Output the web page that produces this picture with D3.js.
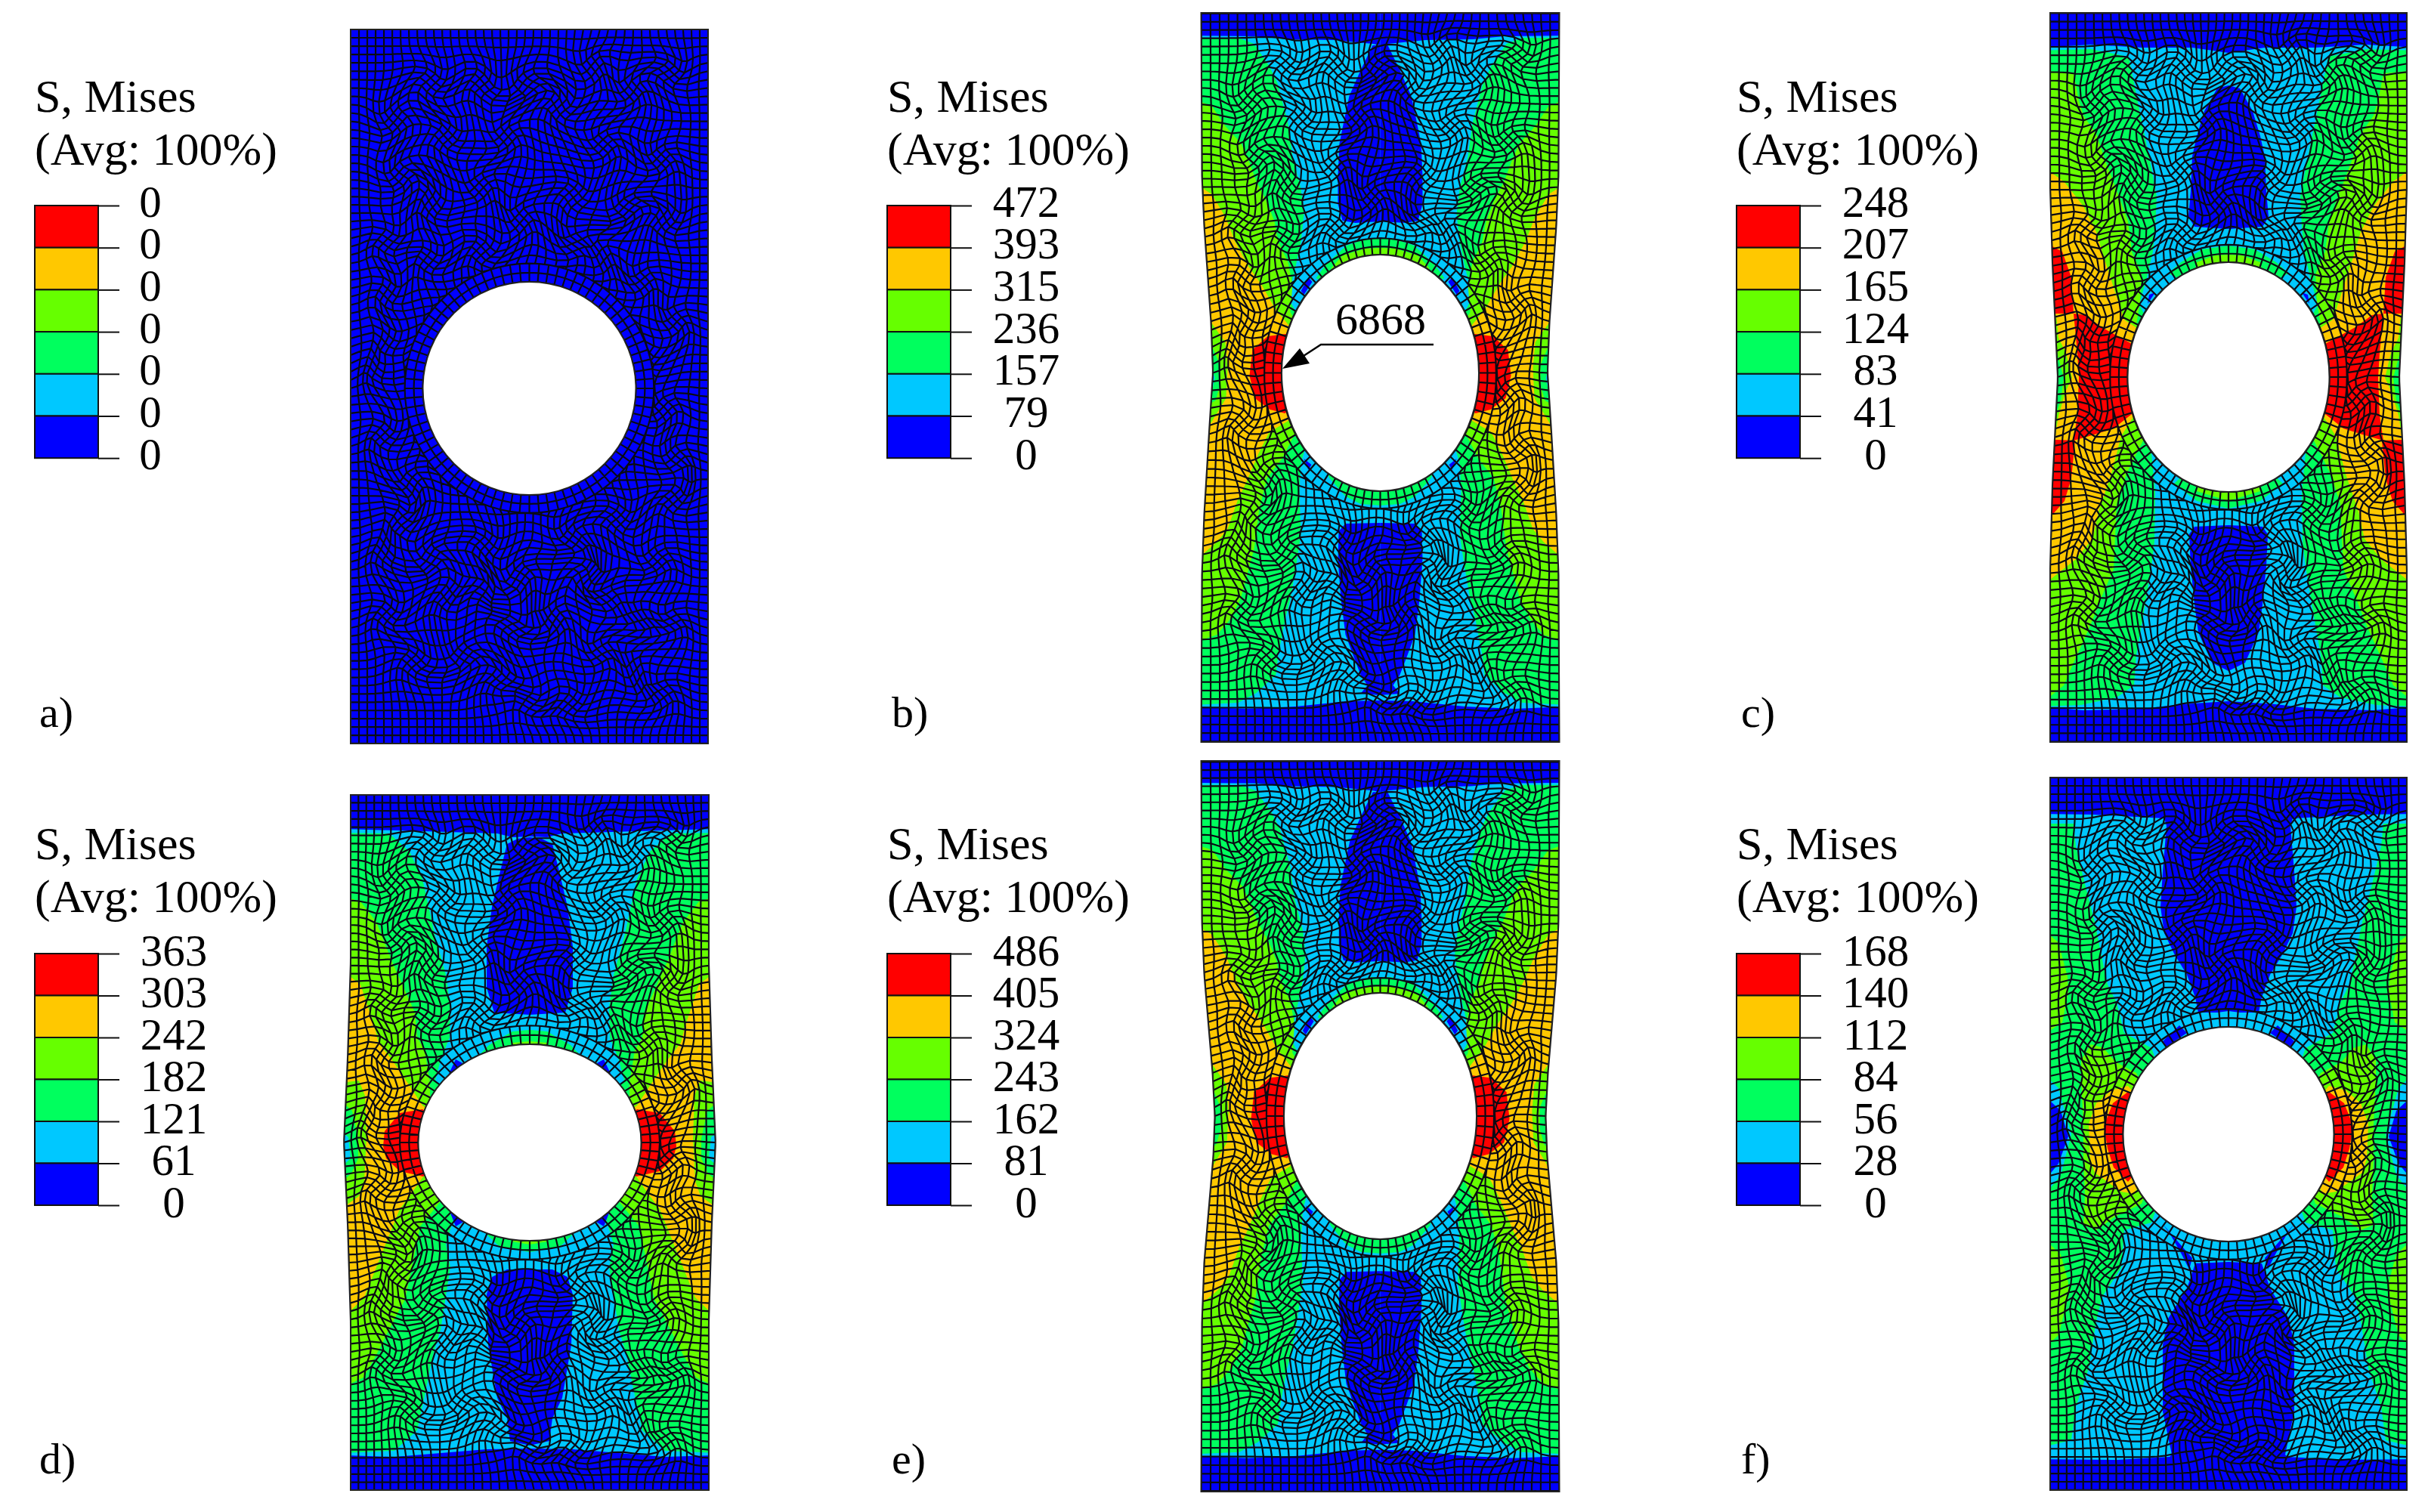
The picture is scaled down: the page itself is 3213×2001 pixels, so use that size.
<!DOCTYPE html>
<html>
<head>
<meta charset="utf-8">
<script src="https://d3js.org/d3.v7.min.js"></script>
<style>
body { margin: 0; background: #fff; }
text { font-family: "Liberation Serif", serif; fill: #000; }
</style>
</head>
<body>
<div id="fig"></div>
<script>
// legend values, top to bottom
const labelsA = ["0", "0", "0", "0", "0", "0", "0"];
const labelsB = ["472", "393", "315", "236", "157", "79", "0"];
const labelsC = ["248", "207", "165", "124", "83", "41", "0"];
const labelsD = ["363", "303", "242", "182", "121", "61", "0"];
const labelsE = ["486", "405", "324", "243", "162", "81", "0"];
const labelsF = ["168", "140", "112", "84", "56", "28", "0"];
const legendLabels = [labelsA, labelsB, labelsC, labelsD, labelsE, labelsF];

const panelNames = ["a)", "b)", "c)", "d)", "e)", "f)"];
const legendColors = ["#ff0000", "#ffc800", "#66ff00", "#00ff5e", "#00c8ff", "#0000ff"];

// contour levels used by the zones below
const BLUE = 5, CYAN = 4, GREEN = 3, LIME = 2, ORANGE = 1, RED = 0;

// plate and hole geometry
const plateCenter = [700.5, 1826.5, 2949, 701, 1826.5, 2949];
const plateTop = [39, 17, 17, 1052, 1007, 1029];
const plateBottom = [984, 982, 982, 1972, 1974, 1972];
const holeCy = [514, 493.5, 499, 1512, 1477, 1501];
const holeRx = [141, 130.5, 133.5, 147.5, 127.5, 139.5];
const holeRy = [141, 156.5, 152, 130, 163, 142];

// half width of the plate at some heights (the sides bow in or out)
const edgeY = [
    [39, 984],
    [17, 233, 300, 427, 493, 563, 680, 760, 982],
    [17, 250, 350, 500, 640, 750, 982],
    [1052, 1273, 1400, 1512, 1620, 1750, 1972],
    [1007, 1220, 1290, 1420, 1477, 1530, 1670, 1750, 1974],
    [1029, 1972]
];
const edgeHalf = [
    [236.5, 236.5],
    [237, 236, 233, 224, 221.5, 226, 233, 236, 237],
    [236, 236, 233, 226, 233, 236, 236],
    [237, 237, 241, 246, 241, 237, 237],
    [237, 236, 233, 222, 219, 221, 233, 236, 237],
    [236, 236]
];

// contour zones: [level, [[distance from centre line, y], ...]], left half, mirrored when drawn.
// painted in order so later ones sit on top.
const zonesB = [
    [GREEN, [[250,50],[188,50],[167,58],[147,87],[136,110],[122,163],[116,207],[105,250],[101,283],[105,320],[112,353],[122,393],[70,493],[105,613],[107,650],[105,707],[112,753],[119,793],[126,820],[135,867],[138,893],[164,917],[188,930],[250,933]]],
    [LIME, [[250,130],[223,140],[205,167],[184,190],[174,213],[164,240],[150,267],[140,293],[135,320],[122,347],[116,377],[119,413],[70,493],[116,580],[130,607],[150,633],[160,673],[167,727],[178,767],[185,793],[199,820],[216,840],[250,852]]],
    [ORANGE, [[250,240],[223,257],[205,287],[192,320],[174,353],[157,377],[140,407],[124,427],[70,493],[122,557],[147,572],[161,600],[178,640],[188,660],[202,700],[216,717],[250,747]]],
    [LIME, [[250,425],[225,425],[205,453],[202,487],[204,527],[226,563],[250,565]]],
    [GREEN, [[250,445],[224,455],[212,483],[212,510],[218,530],[250,548]]],
    [CYAN, [[250,470],[224,483],[219,500],[222,515],[250,525]]],
    [RED, [[125,442],[149,445],[169,463],[173,497],[166,527],[146,542],[126,547],[70,493]]],
    [GREEN, [[0,315],[15,315],[45,325],[72,350],[85,368],[60,380],[0,380]]],
    [LIME, [[0,328],[20,329],[50,338],[65,355],[40,380],[0,380]]],
    [GREEN, [[0,669],[26,667],[46,657],[67,633],[75,615],[40,610],[0,610]]],
    [BLUE, [[0,10],[250,10],[250,47],[164,48],[122,52],[60,53],[10,58],[0,60]]],
    [BLUE, [[10,60],[26,93],[41,127],[48,160],[54,190],[56,233],[56,270],[50,292],[33,295],[0,293],[0,60]]],
    [BLUE, [[0,692],[46,693],[55,703],[56,740],[52,793],[46,840],[36,867],[26,893],[17,907],[26,918],[0,920]]],
    [BLUE, [[0,990],[250,990],[250,935],[178,938],[112,935],[43,928],[0,927]]],
    [BLUE, [[105,385],[95,367],[90,373],[101,390]]],
    [BLUE, [[101,607],[91,615],[95,622]]]
];
const zonesC = [
    [GREEN, [[250,67],[182,65],[132,75],[125,110],[115,160],[105,207],[95,260],[97,300],[100,333],[108,367],[118,403],[70,499],[102,600],[97,650],[98,717],[102,750],[112,810],[122,867],[125,907],[148,923],[195,933],[250,935]]],
    [LIME, [[250,93],[205,97],[198,133],[192,153],[175,177],[163,213],[145,260],[133,293],[128,333],[115,363],[117,400],[122,430],[70,499],[118,593],[135,627],[148,667],[152,753],[168,790],[185,833],[205,877],[218,907],[250,933]]],
    [ORANGE, [[250,218],[218,240],[192,273],[175,307],[165,340],[148,393],[138,423],[123,433],[70,499],[123,547],[142,577],[155,627],[172,677],[180,713],[202,740],[250,778]]],
    [RED, [[250,317],[220,333],[208,367],[205,415],[250,415]]],
    [RED, [[205,415],[190,417],[168,433],[128,455],[60,500],[128,548],[152,567],[177,575],[205,583],[200,550],[198,500],[200,467]]],
    [RED, [[228,582],[203,583],[208,633],[217,663],[232,680],[250,690],[250,582]]],
    [LIME, [[250,415],[228,417],[225,447],[215,467],[207,500],[215,517],[225,550],[230,582],[250,582]]],
    [GREEN, [[250,430],[232,440],[226,470],[218,500],[222,530],[232,560],[250,565]]],
    [CYAN, [[250,470],[232,480],[228,500],[232,520],[250,530]]],
    [GREEN, [[0,325],[35,330],[63,347],[80,362],[40,380],[0,380]]],
    [LIME, [[0,337],[18,338],[42,347],[50,380],[0,380]]],
    [GREEN, [[0,673],[42,663],[72,640],[40,610],[0,610]]],
    [LIME, [[0,663],[42,650],[30,610],[0,610]]],
    [BLUE, [[0,10],[250,10],[250,63],[182,59],[115,63],[48,63],[0,70]]],
    [BLUE, [[0,113],[15,117],[32,147],[42,180],[48,207],[50,253],[53,287],[45,300],[0,303]]],
    [BLUE, [[0,695],[45,697],[52,707],[50,750],[45,800],[40,837],[22,877],[0,888]]],
    [BLUE, [[0,990],[250,990],[250,935],[192,940],[115,938],[62,932],[0,928]]],
    [BLUE, [[107,402],[105,390],[97,387]]]
];
const zonesD = [
    [GREEN, [[250,1102],[186,1103],[159,1127],[142,1163],[125,1240],[111,1290],[105,1333],[106,1373],[118,1403],[125,1430],[70,1512],[111,1647],[105,1677],[118,1760],[128,1793],[139,1847],[149,1893],[179,1920],[250,1923]]],
    [LIME, [[250,1185],[224,1193],[203,1220],[182,1273],[164,1313],[152,1340],[149,1373],[139,1390],[132,1433],[132,1453],[70,1512],[118,1590],[145,1623],[152,1657],[165,1720],[176,1740],[203,1793],[220,1823],[250,1837]]],
    [ORANGE, [[250,1283],[224,1303],[205,1360],[200,1380],[182,1403],[159,1437],[142,1463],[70,1512],[141,1557],[159,1583],[172,1600],[199,1667],[219,1717],[250,1747]]],
    [LIME, [[250,1433],[226,1430],[218,1450],[216,1507],[219,1563],[226,1583],[250,1600]]],
    [GREEN, [[250,1457],[235,1470],[227,1507],[227,1533],[236,1553],[250,1565]]],
    [CYAN, [[250,1497],[240,1505],[237,1533],[250,1545]]],
    [RED, [[142,1468],[172,1473],[192,1497],[194,1517],[190,1533],[172,1550],[141,1557],[80,1512]]],
    [GREEN, [[0,1363],[23,1365],[54,1383],[80,1410],[40,1420],[0,1420]]],
    [LIME, [[0,1378],[23,1380],[30,1410],[0,1410]]],
    [GREEN, [[0,1657],[40,1650],[64,1627],[80,1605],[0,1605]]],
    [LIME, [[0,1647],[23,1643],[30,1620],[0,1620]]],
    [BLUE, [[0,1040],[250,1040],[250,1097],[142,1100],[43,1103],[23,1108],[0,1107]]],
    [BLUE, [[16,1110],[30,1117],[40,1157],[50,1200],[57,1253],[57,1307],[47,1340],[0,1343],[0,1108]]],
    [BLUE, [[0,1680],[30,1680],[50,1690],[57,1713],[55,1780],[43,1850],[30,1877],[26,1907],[0,1913]]],
    [BLUE, [[0,1980],[250,1980],[250,1926],[179,1928],[118,1923],[57,1918],[0,1917]]],
    [BLUE, [[108,1423],[98,1402],[89,1407],[103,1423]]],
    [BLUE, [[106,1603],[88,1617],[98,1623]]]
];
const zonesF = [
    [GREEN, [[250,1090],[205,1090],[202,1120],[190,1170],[177,1220],[167,1270],[160,1303],[148,1327],[138,1367],[102,1387],[60,1500],[102,1618],[138,1628],[142,1678],[167,1716],[175,1748],[185,1811],[202,1862],[208,1906],[250,1916]]],
    [LIME, [[250,1227],[225,1247],[213,1293],[212,1313],[220,1353],[250,1373]]],
    [LIME, [[250,1634],[222,1660],[212,1697],[212,1716],[225,1767],[250,1790]]],
    [LIME, [[195,1403],[182,1382],[165,1387],[150,1405],[122,1420],[80,1500],[115,1593],[150,1610],[175,1628],[192,1621],[190,1583],[192,1533],[192,1487],[195,1430]]],
    [ORANGE, [[133,1437],[155,1443],[175,1460],[185,1487],[183,1533],[177,1552],[142,1577],[125,1580],[80,1500]]],
    [RED, [[133,1445],[153,1460],[165,1490],[160,1520],[152,1545],[133,1564],[80,1500]]],
    [CYAN, [[250,1416],[225,1440],[208,1501],[222,1555],[250,1590]]],
    [BLUE, [[250,1444],[222,1470],[212,1504],[225,1540],[250,1570]]],
    [BLUE, [[0,1020],[250,1020],[250,1077],[180,1078],[85,1083],[82,1093],[87,1153],[90,1200],[85,1235],[72,1262],[55,1290],[44,1320],[40,1340],[15,1340],[0,1338]]],
    [BLUE, [[65,1357],[55,1367],[82,1385],[87,1378]]],
    [BLUE, [[0,1980],[250,1980],[250,1931],[148,1932],[78,1928],[75,1925],[87,1868],[87,1780],[80,1745],[55,1705],[44,1672],[0,1670]]],
    [BLUE, [[87,1620],[48,1665],[52,1680],[62,1660],[78,1632]]]
];
const panelZones = [[], zonesB, zonesC, zonesD, zonesB, zonesF];
const panelBase = [BLUE, CYAN, CYAN, CYAN, CYAN, CYAN];
// which panel's frame the zones were read in (e shares b's pattern)
const zoneFrame = [0, 1, 2, 3, 1, 5];

// schematic mesh: spots where the free mesh whorls, in plate units around the hole centre
const meshKnots = [[-178,-351],[-63,-402],[85,-424],[187,-412],[-5,-396],[59,-253],[-63,-265],[-133,-241],[129,-235],[-191,-192],
    [-12,-222],[-63,-180],[97,-168],[-204,-27],[181,27],[-191,-64],[-159,125],[117,174],[-12,247],[-153,363],
    [-88,357],[53,418],[142,375],[-24,314],[174,405],[-191,216],[33,308],[149,-40],[175,-300],[-110,-330],
    [100,-320],[-110,280],[110,270],[190,150],[-30,-330],[40,-370],[135,-390],[-130,-400],[-170,-280],[180,-220],
    [60,-190],[-135,-170],[150,-140],[-190,-125],[195,-90],[-195,60],[195,90],[-170,175],[55,200],[-60,210],
    [170,230],[-60,270],[-130,225],[75,250],[145,300],[-40,390],[95,350],[-190,300],[190,310],[0,420]];

// callout on panel b
const calloutLabel = "6868";
const calloutLine = [[1897, 456], [1748, 456], [1725, 471]];
const calloutHead = [[1697, 488], [1720, 461], [1733, 481]];

const W = 237, H = 471.5, R = 141, RING = 12, CELLSX = 43, CELLSY = 86;

const svg = d3.select("#fig").append("svg")
    .attr("width", 3213)
    .attr("height", 2001)
    .style("display", "block");

function legendX(i) { return [46, 1174, 2298][i % 3]; }
function legendTop(i) { return i < 3 ? 272 : 1262; }

function drawLegend(i) {
    const x0 = legendX(i), top = legendTop(i), step = i < 3 ? 55.7 : 55.5;
    const g = svg.append("g");
    const y = d3.scaleLinear().domain([0, 6]).range([top, top + 6 * step]);

    g.append("text").attr("x", x0).attr("y", i < 3 ? 148 : 1137).style("font-size", "62px").text("S, Mises");
    g.append("text").attr("x", x0).attr("y", i < 3 ? 218 : 1207).style("font-size", "62px").text("(Avg: 100%)");

    g.selectAll("rect")
        .data(legendColors)
        .enter()
        .append("rect")
        .attr("x", x0)
        .attr("y", (d, k) => y(k))
        .attr("width", 84)
        .attr("height", step)
        .attr("fill", d => d)
        .attr("stroke", "#111")
        .attr("stroke-width", 2);

    const axis = d3.axisRight(y)
        .tickValues(d3.range(7))
        .tickSize(28)
        .tickFormat(k => legendLabels[i][k]);

    const ax = g.append("g")
        .attr("transform", "translate(" + (x0 + 84) + ",0)")
        .call(axis);
    ax.select(".domain").remove();
    ax.selectAll("line").attr("stroke", "#111").attr("stroke-width", 2);
    ax.selectAll("text")
        .attr("x", i == 0 ? 69 : 100)
        .attr("dy", i < 3 ? "14px" : "15px")
        .attr("text-anchor", "middle")
        .style("font-size", "59px")
        .style("font-family", '"Liberation Serif", serif');

    svg.append("text")
        .attr("x", x0 + 6)
        .attr("y", i < 3 ? 962 : 1950)
        .style("font-size", "58px")
        .text(panelNames[i]);
}

function warp(u, v) {
    let fade = Math.min(1, (W - Math.abs(u)) / 36) * Math.min(1, (H - Math.abs(v)) / 36);
    fade = Math.max(0, fade);
    let x = u, y = v;
    meshKnots.forEach((k, n) => {
        const dx = x - k[0], dy = y - k[1];
        // flat core so the middle of a patch sits at about 45 degrees, then dies off fast
        const f = Math.min(1, 1.5 * Math.exp(-(dx * dx + dy * dy) / (30 * 30))) * fade;
        const turn = (n % 2 ? 0.8 : -0.8) * f, s = 1 - 0.22 * f;
        x = k[0] + s * (dx * Math.cos(turn) - dy * Math.sin(turn));
        y = k[1] + s * (dx * Math.sin(turn) + dy * Math.cos(turn));
    });
    return [x, y];
}

// grid nodes only get computed once, each panel then bends them
const meshNodes = d3.range(CELLSX + 1).map(i => d3.range(CELLSY + 1).map(j =>
    warp(-W + i * 2 * W / CELLSX, -H + j * 2 * H / CELLSY)));

function meshSegments() {
    const out = [], rOut = R + 2 * RING;
    const addEdge = (a, b) => {
        const ra = Math.hypot(a[0], a[1]), rb = Math.hypot(b[0], b[1]);
        if (ra < rOut && rb < rOut) return;
        if (ra < rOut) a = [a[0] * rOut / ra, a[1] * rOut / ra];
        if (rb < rOut) b = [b[0] * rOut / rb, b[1] * rOut / rb];
        out.push([a, b]);
    };
    for (let i = 0; i <= CELLSX; i++) {
        for (let j = 0; j <= CELLSY; j++) {
            if (i < CELLSX) addEdge(meshNodes[i][j], meshNodes[i + 1][j]);
            if (j < CELLSY) addEdge(meshNodes[i][j], meshNodes[i][j + 1]);
        }
    }
    // two rows of elements hug the hole
    const spokes = 80;
    d3.range(spokes).forEach(s => {
        const a = s * 2 * Math.PI / spokes, b = (s + 1) * 2 * Math.PI / spokes;
        [R, R + RING, rOut].forEach(r => {
            out.push([[r * Math.cos(a), r * Math.sin(a)], [r * Math.cos(b), r * Math.sin(b)]]);
        });
        out.push([[R * Math.cos(a), R * Math.sin(a)], [rOut * Math.cos(a), rOut * Math.sin(a)]]);
    });
    return out;
}
const segments = meshSegments();

function drawPanel(i) {
    const cx = plateCenter[i], cy = holeCy[i], rx = holeRx[i], ry = holeRy[i];
    const top = plateTop[i], bot = plateBottom[i];
    const edge = d3.scaleLinear().domain(edgeY[i]).range(edgeHalf[i]);

    // plate outline with the hole cut out
    const side = d3.range(top, bot + 1, 8).concat([bot]);
    const outline = d3.line()(side.map(y => [cx - edge(y), y]).concat(side.slice().reverse().map(y => [cx + edge(y), y]))) + "Z";
    const hole = "M" + (cx - rx) + "," + cy + "A" + rx + " " + ry + " 0 1 0 " + (cx + rx) + "," + cy +
        "A" + rx + " " + ry + " 0 1 0 " + (cx - rx) + "," + cy + "Z";

    svg.append("clipPath")
        .attr("id", "plate" + i)
        .append("path")
        .attr("d", outline + hole)
        .attr("clip-rule", "evenodd");

    const g = svg.append("g").attr("clip-path", "url(#plate" + i + ")");

    g.append("rect")
        .attr("x", cx - 260).attr("y", top - 5)
        .attr("width", 520).attr("height", bot - top + 10)
        .attr("fill", legendColors[panelBase[i]]);

    // zones go through scales so e can reuse the pattern read on b
    const f = zoneFrame[i];
    const frameY = [plateTop[f], holeCy[f] - holeRy[f], holeCy[f] + holeRy[f], plateBottom[f]];
    const yScale = d3.scaleLinear().domain(frameY).range([top, cy - ry, cy + ry, bot]);
    const dxScale = d3.scaleLinear().domain([0, holeRx[f], 250]).range([0, rx, 250]);

    const shapes = [];
    panelZones[i].forEach(z => {
        shapes.push({ level: z[0], pts: z[1].map(p => [cx - dxScale(p[0]), yScale(p[1])]) });
        shapes.push({ level: z[0], pts: z[1].map(p => [cx + dxScale(p[0]), yScale(p[1])]) });
    });
    g.selectAll("path.zone")
        .data(shapes)
        .enter()
        .append("path")
        .attr("class", "zone")
        .attr("d", d => d3.line()(d.pts) + "Z")
        .attr("fill", d => legendColors[d.level]);

    // bend the mesh so the hole and the edges land where they are on this panel
    const coef = (h, len, ratio) => {
        const q = (R / len) * (R / len);
        return (h / len - ratio * q) / (1 - q);
    };
    const kx = coef(edge(cy), W, rx / R);
    const kT = coef(cy - top, H, ry / R), kB = coef(bot - cy, H, ry / R);
    const bend = p => {
        const u = p[0], v = p[1];
        const w = Math.min(1, R * R / (u * u + v * v));
        const ky = v < 0 ? kT : kB;
        const Y = v * (ky + (ry / R - ky) * w);
        let X = u * (kx + (rx / R - kx) * w);
        const we = R * R / (W * W + v * v);
        const xe = W * (kx + (rx / R - kx) * we);
        const t = (u / W) * (u / W);
        X *= 1 + t * (edge(cy + Y) / xe - 1);
        return [cx + X, cy + Y];
    };

    const path = d3.path();
    segments.forEach(s => {
        const a = bend(s[0]), b = bend(s[1]);
        path.moveTo(a[0], a[1]);
        path.lineTo(b[0], b[1]);
    });
    g.append("path")
        .attr("d", path.toString())
        .attr("fill", "none")
        .attr("stroke", "#0a0a14")
        .attr("stroke-width", 2.2);

    svg.append("path")
        .attr("d", outline + hole)
        .attr("fill", "none")
        .attr("stroke", "#222")
        .attr("stroke-width", 2);
}

d3.range(6).forEach(i => {
    drawLegend(i);
    drawPanel(i);
});

// callout
svg.append("text")
    .attr("x", 1767).attr("y", 442)
    .style("font-size", "60px")
    .text(calloutLabel);
svg.append("path")
    .attr("d", d3.line()(calloutLine))
    .attr("fill", "none")
    .attr("stroke", "#000")
    .attr("stroke-width", 2.5);
svg.append("path")
    .attr("d", d3.line()(calloutHead) + "Z")
    .attr("fill", "#000");
</script>
</body>
</html>
